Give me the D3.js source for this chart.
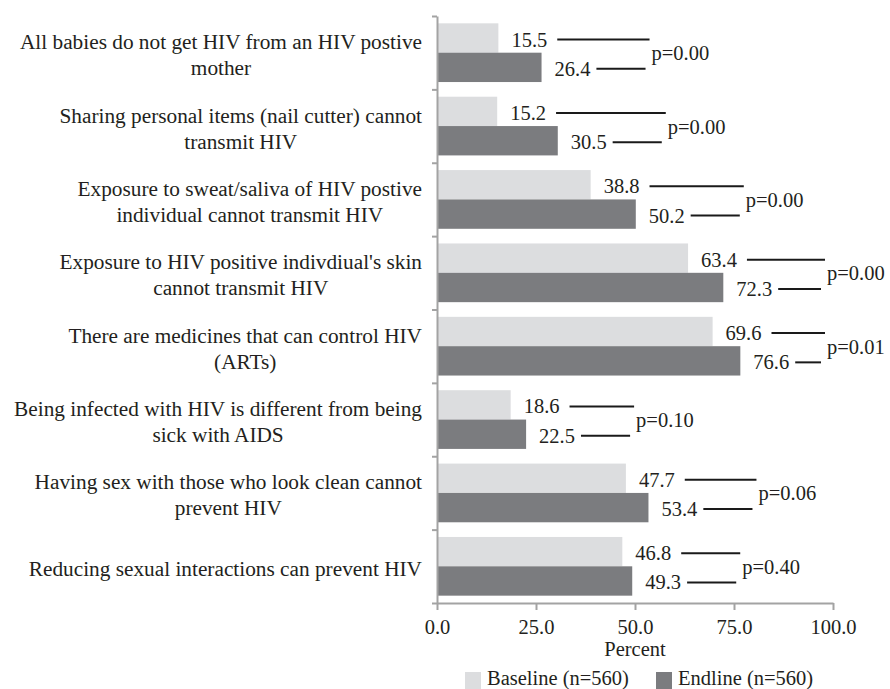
<!DOCTYPE html>
<html>
<head>
<meta charset="utf-8">
<script src="https://cdn.jsdelivr.net/npm/d3@7"></script>
<style>
  body { margin: 0; background: #fff; }
  svg { display: block; font-family: "Liberation Serif", "Times New Roman", serif; }
  .axis path, .axis line { stroke: #a3a3a3; stroke-width: 2px; }
  .axis text { font-family: "Liberation Serif", serif; font-size: 20.5px; fill: #231f20; }
</style>
</head>
<body>
<svg id="chart" width="890" height="689"></svg>
<script>
// statements, top to bottom (\n marks the line break used in the figure)
const categories = [
    "All babies do not get HIV from an HIV postive\nmother",
    "Sharing personal items (nail cutter) cannot\ntransmit HIV",
    "Exposure to sweat/saliva of HIV postive\nindividual cannot transmit HIV",
    "Exposure to HIV positive indivdiual's skin\ncannot transmit HIV",
    "There are medicines that can control HIV\n(ARTs)",
    "Being infected with HIV is different from being\nsick with AIDS",
    "Having sex with those who look clean cannot\nprevent HIV",
    "Reducing sexual interactions can prevent HIV"
];
const series = ["Baseline (n=560)", "Endline (n=560)"];
const baseline = [15.5, 15.2, 38.8, 63.4, 69.6, 18.6, 47.7, 46.8];
const endline = [26.4, 30.5, 50.2, 72.3, 76.6, 22.5, 53.4, 49.3];
const pValues = ["0.00", "0.00", "0.00", "0.00", "0.01", "0.10", "0.06", "0.40"];
const xTicks = [0, 25, 50, 75, 100];

const rows = categories.map((c, i) => ({
    cat: c, i: i,
    vals: [{s: series[0], v: baseline[i]}, {s: series[1], v: endline[i]}],
    p: pValues[i]
}));

let svg = d3.select('#chart'),
    W = +svg.attr('width'),
    margin = {top: 16, left: 437, right: 57, bottom: 86},
    width = W - margin.left - margin.right,
    height = +svg.attr('height') - margin.top - margin.bottom,
    color = d3.scaleOrdinal().domain(series).range(["#dcdddf", "#7b7c7f"]);

let x = d3.scaleLinear().domain([0, 100]).range([0, width]);
let y = d3.scaleBand().domain(d3.range(categories.length)).range([0, height]).padding(0);
let ySub = d3.scaleBand().domain(series).range([0, y.bandwidth()]).paddingInner(0).paddingOuter(0.25);

let g = svg.append('g').attr('transform', `translate(${margin.left},${margin.top})`);

// bars
let grp = g.selectAll('.row').data(rows).enter().append('g')
    .attr('class', 'row')
    .attr('transform', d => `translate(0,${y(d.i)})`);

grp.selectAll('rect').data(d => d.vals).enter().append('rect')
    .attr('x', 0)
    .attr('y', d => ySub(d.s))
    .attr('width', d => x(d.v))
    .attr('height', ySub.bandwidth())
    .attr('fill', d => color(d.s));

// value labels
grp.selectAll('.val').data(d => d.vals).enter().append('text')
    .attr('class', 'val')
    .attr('x', d => x(d.v) + 13)
    .attr('y', d => ySub(d.s) + ySub.bandwidth() / 2 + 8.5)
    .style('font-size', '20.5px').style('fill', '#231f20')
    .text(d => d.v.toFixed(1));

// p-value annotations with the two connecting strokes
grp.each(function(d) {
    const row = d3.select(this);
    const mx = d3.max(d.vals, v => v.v);
    const px = Math.min(x(mx) + 110, W - margin.left - 63);
    const cy = y.bandwidth() / 2;
    row.append('text')
        .attr('x', px).attr('y', cy + 7.5)
        .style('font-size', '20.5px').style('fill', '#231f20')
        .text('p=' + d.p);
    row.selectAll('.val').each(function(v, k) {
        const end = +d3.select(this).attr('x') + this.getComputedTextLength();
        const ly = ySub(v.s) + ySub.bandwidth() / 2 + 1.5;
        row.append('line')
            .attr('x1', end + (k === 0 ? 10 : 6))
            .attr('x2', px - (k === 0 ? 2 : 6))
            .attr('y1', ly).attr('y2', ly)
            .attr('stroke', '#1a1a1a').attr('stroke-width', 2);
    });
});

// axes
let gx = g.append('g').attr('class', 'axis')
    .attr('transform', `translate(0,${height})`)
    .call(d3.axisBottom(x).tickValues(xTicks).tickFormat(d3.format('.1f')).tickSize(7).tickSizeOuter(0));
gx.selectAll('text').attr('dy', null).attr('y', 31);

let yl = d3.scaleLinear().domain([0, categories.length]).range([0, height]);
g.append('g').attr('class', 'axis')
    .call(d3.axisLeft(yl).tickValues(d3.range(categories.length + 1)).tickFormat('').tickSize(5).tickSizeOuter(0));

g.append('text')
    .attr('x', x(50)).attr('y', height + 53)
    .attr('text-anchor', 'middle')
    .style('font-size', '20.5px').style('fill', '#231f20')
    .text('Percent');

// category labels: lines centred on each other, block right-aligned
grp.each(function(d) {
    const lines = d.cat.split('\n');
    const lab = d3.select(this).append('g');
    const ts = lab.selectAll('text').data(lines).enter().append('text')
        .attr('text-anchor', 'middle')
        .attr('y', (l, k) => y.bandwidth() / 2 + 9.5 + (k - (lines.length - 1) / 2) * 26)
        .style('font-size', '21.3px').style('fill', '#231f20')
        .text(l => l);
    let w = 0;
    ts.each(function() { w = Math.max(w, this.getComputedTextLength()); });
    ts.attr('x', -15 - w / 2);
});

// legend
let leg = svg.append('g').attr('transform', `translate(465,${margin.top + height + 69})`);
let li = leg.selectAll('g').data(series).enter().append('g')
    .attr('transform', (d, i) => `translate(${i * 191},0)`);
li.append('rect').attr('width', 16).attr('height', 17).attr('fill', d => color(d));
li.append('text').attr('x', 22).attr('y', 12.5)
    .style('font-size', '20.5px').style('fill', '#231f20')
    .text(d => d);
</script>
</body>
</html>
